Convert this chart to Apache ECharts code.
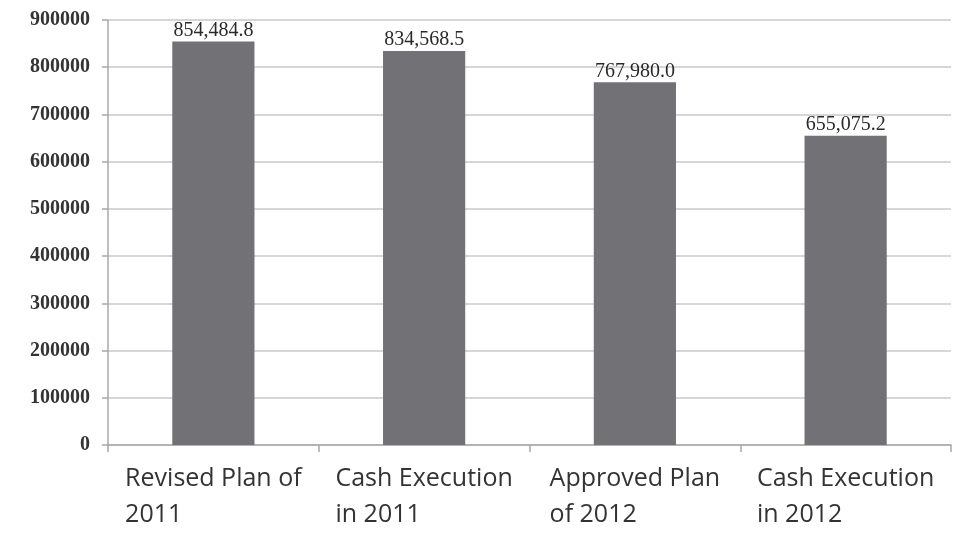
<!DOCTYPE html>
<html>
<head>
<meta charset="utf-8">
<script src="https://cdn.jsdelivr.net/npm/echarts@6/dist/echarts.min.js"></script>
<style>
html,body{margin:0;padding:0;background:#fff;}
#chart{width:959px;height:535px;}
</style>
</head>
<body>
<div id="chart"></div>
<script>
const categories = ["Revised Plan of\n2011", "Cash Execution\nin 2011", "Approved Plan\nof 2012", "Cash Execution\nin 2012"];
const values = [854484.8, 834568.5, 767980.0, 655075.2];
const valueLabels = ["854,484.8", "834,568.5", "767,980.0", "655,075.2"];
const yMin = 0, yMax = 900000, yStep = 100000;

const chart = echarts.init(document.getElementById('chart'), null, {renderer: 'canvas'});
chart.setOption({
  animation: false,
  backgroundColor: '#ffffff',
  grid: {left: 108, right: 8, top: 20, bottom: 90, containLabel: false},
  xAxis: {
    type: 'category',
    data: categories,
    axisLine: {show: true, lineStyle: {color: '#a8a8a8', width: 1.5}},
    axisTick: {show: true, length: 7, alignWithLabel: false, lineStyle: {color: '#a8a8a8', width: 1.5}},
    axisLabel: {
      interval: 0,
      margin: 16,
      color: '#333333',
      fontFamily: 'Open Sans',
      fontSize: 25,
      lineHeight: 36,
      formatter: function (v) {
        return v.split('\n').map(function (s) { return '{a|' + s + '}'; }).join('\n');
      },
      rich: {a: {align: 'left', fontFamily: 'Open Sans', fontSize: 25, lineHeight: 36, color: '#333333'}}
    }
  },
  yAxis: {
    type: 'value',
    min: yMin, max: yMax, interval: yStep,
    axisLine: {show: true, lineStyle: {color: '#a8a8a8', width: 1.5}},
    axisTick: {show: true, length: 6, lineStyle: {color: '#a8a8a8', width: 1.5}},
    splitLine: {show: true, lineStyle: {color: '#c8c8c8', width: 1.5}},
    axisLabel: {
      margin: 18,
      color: '#333333',
      fontFamily: 'Liberation Serif',
      fontWeight: 'bold',
      fontSize: 20,
      formatter: function (v) { return String(v); }
    }
  },
  series: [{
    type: 'bar',
    data: values,
    barWidth: '39%',
    itemStyle: {color: '#727276'},
    label: {
      show: true,
      position: 'top',
      distance: 1,
      color: '#2a2a2a',
      fontFamily: 'Liberation Serif',
      fontSize: 20,
      formatter: function (p) { return valueLabels[p.dataIndex]; }
    }
  }]
});
</script>
</body>
</html>
